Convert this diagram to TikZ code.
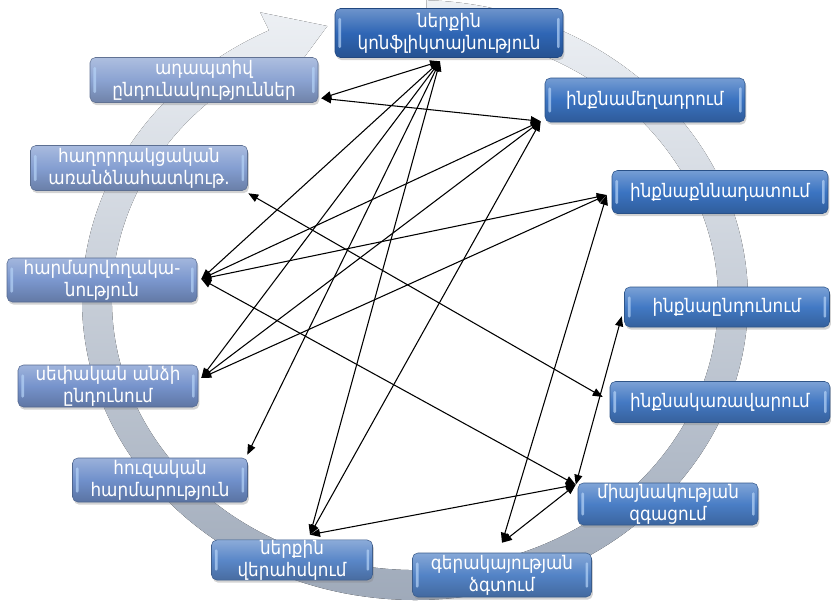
\documentclass[tikz,border=0pt]{standalone}
\usepackage{fontspec}
\setmainfont{DejaVu Sans}[FakeStretch=0.9]
\usetikzlibrary{arrows.meta,calc,shadows}
\definecolor{ckon}{HTML}{2F66B5}
\definecolor{cmex}{HTML}{3A72C0}
\definecolor{cqnn}{HTML}{3B74C2}
\definecolor{cinq}{HTML}{4279C4}
\definecolor{ckar}{HTML}{4479C3}
\definecolor{cmia}{HTML}{4A7EC6}
\definecolor{cger}{HTML}{5383C6}
\definecolor{cner}{HTML}{5A87C8}
\definecolor{chuz}{HTML}{7090CB}
\definecolor{csep}{HTML}{7693CC}
\definecolor{char}{HTML}{7B97CE}
\definecolor{chax}{HTML}{849ED1}
\definecolor{cada}{HTML}{8BA3D2}
\definecolor{ringtop}{HTML}{EEF1F5}
\definecolor{ringbot}{HTML}{9EA9B9}
\definecolor{gloss}{HTML}{B5D3F7}
\begin{document}
\begin{tikzpicture}[x=0.75pt,y=-0.75pt,
  box/.style n args={3}{rounded corners=4pt,
    minimum width=#1*0.75pt, minimum height=#2*0.75pt, inner sep=0pt,
    draw=#3!70!black, line width=0.4pt,
    top color=#3!70!white, bottom color=#3!80!black, middle color=#3,
    text=white, align=center, font=\fontsize{14}{16.5}\selectfont,
    drop shadow={opacity=0.35, shadow xshift=1pt, shadow yshift=-2pt},
    path picture={
      \fill[gloss, opacity=0.7, rounded corners=1pt]
        ([xshift=2.5pt,yshift=-7pt]path picture bounding box.north west) rectangle
        ([xshift=4.5pt,yshift=7pt]path picture bounding box.south west);
      \fill[gloss, opacity=0.7, rounded corners=1pt]
        ([xshift=-4.5pt,yshift=-7pt]path picture bounding box.north east) rectangle
        ([xshift=-2.5pt,yshift=7pt]path picture bounding box.south east);
    }},
  link/.style={line width=0.8pt,
    {Triangle[length=7.5pt,width=6pt]}-{Triangle[length=7.5pt,width=6pt]}}]

\useasboundingbox (0,0) rectangle (831,603);

% background circular arrow
\fill[top color=ringtop, bottom color=ringbot]
  ({415+333*cos(-88)},{300+300*sin(-88)})
  arc[start angle=-88, end angle=244, x radius=333, y radius=300]
  -- ({415+353*cos(244)},{300+320*sin(244)})
  -- ({415+318*cos(254)},{300+285*sin(254)})
  -- ({415+283*cos(244)},{300+250*sin(244)})
  -- ({415+303*cos(244)},{300+270*sin(244)})
  arc[start angle=244, end angle=-88, x radius=303, y radius=270]
  -- cycle;

% boxes
\node[box={228}{49}{ckon}] (kon) at (449,33) {ներքին\\կոնֆլիկտայնություն};
\node[box={228}{45}{cada}] (ada) at (204,80) {ադապտիվ\\ընդունակություններ};
\node[box={217}{45}{chax}] (hax) at (139,168) {հաղորդակցական\\առանձնահատկութ.};
\node[box={200}{44}{cmex}] (mex) at (645,100) {ինքնամեղադրում};
\node[box={216}{43}{cqnn}] (qnn) at (720,192) {ինքնաքննադատում};
\node[box={190}{44}{char}] (har) at (102,280) {հարմարվողակա-\\նություն};
\node[box={180}{42}{csep}] (sep) at (108,386) {սեփական անձի\\ընդունում};
\node[box={205}{40}{cinq}] (inq) at (727,307) {ինքնաընդունում};
\node[box={220}{41}{ckar}] (kar) at (720,402) {ինքնակառավարում};
\node[box={175}{44}{chuz}] (huz) at (160,480) {հուզական\\հարմարություն};
\node[box={161}{40}{cner}] (ner) at (292,560) {ներքին\\վերահսկում};
\node[box={180}{42}{cmia}] (mia) at (668,504) {միայնակության\\զգացում};
\node[box={179}{44}{cger}] (ger) at (502,575) {գերակայության\\ձգտում};

% connector end points on the boxes
\coordinate (K) at ($(kon.south)+(-9,3.5)$);
\coordinate (A) at ($(ada.south east)+(3,-4.5)$);
\coordinate (M) at ($(mex.south west)+(-4,-1)$);
\coordinate (Q) at ($(qnn.west)+(-5,3)$);
\coordinate (H) at ($(har.east)+(4,-1)$);
\coordinate (S) at ($(sep.east)+(3,-8)$);
\coordinate (X) at ($(hax.south east)+(0.5,2.5)$);
\coordinate (E) at ($(inq.south west)+(-2.5,-11)$);
\coordinate (R) at ($(kar.west)+(-7,-5)$);
\coordinate (Z) at ($(huz.north east)+(-0.5,-3)$);
\coordinate (V) at ($(ner.north)+(18,-5)$);
\coordinate (Y) at ($(mia.north west)+(-2,2)$);
\coordinate (G) at ($(ger.north)+(0,-10)$);

% connectors
\draw[link] (K) -- (A);
\draw[link] (K) -- (H);
\draw[link] (K) -- (S);
\draw[link] (K) -- (Z);
\draw[link] (K) -- (V);
\draw[link] (M) -- (A);
\draw[link] (M) -- (H);
\draw[link] (M) -- (S);
\draw[link] (M) -- (V);
\draw[link] (Q) -- (H);
\draw[link] (Q) -- (S);
\draw[link] (Q) -- (G);
\draw[link] (X) -- (R);
\draw[link] (E) -- (Y);
\draw[link] (H) -- (Y);
\draw[link] (V) -- (Y);
\draw[link] (Y) -- (G);
\end{tikzpicture}
\end{document}
